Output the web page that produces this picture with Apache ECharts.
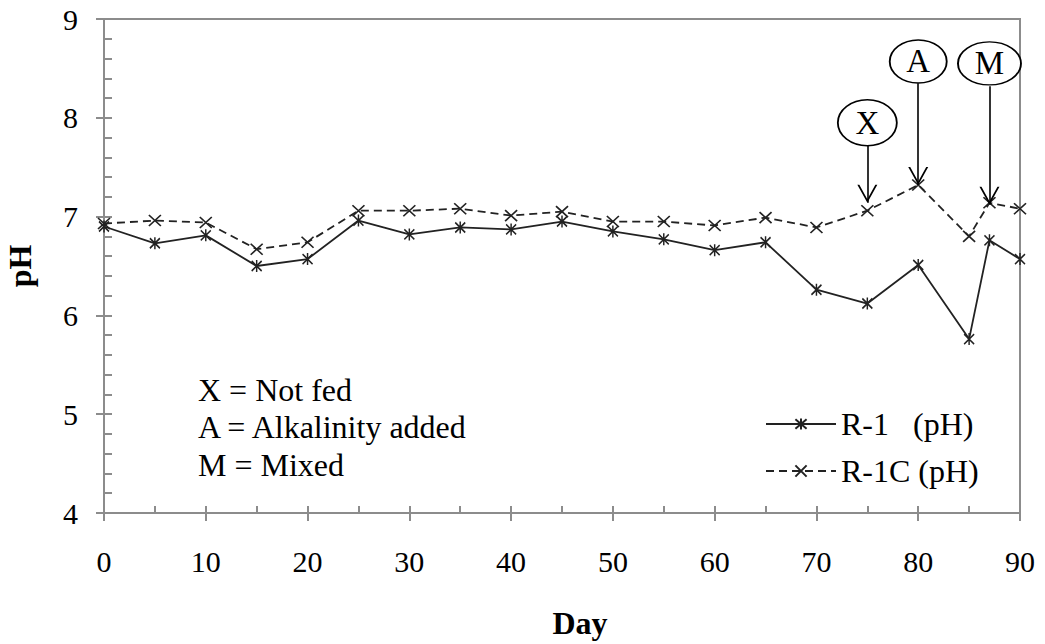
<!DOCTYPE html>
<html><head><meta charset="utf-8">
<script src="https://cdn.jsdelivr.net/npm/echarts@6/dist/echarts.min.js"></script>
<style>html,body{margin:0;padding:0;background:#fff}#c{width:1045px;height:644px}</style>
</head><body><div id="c"></div>
<script>
// ---- data ----
const days = [0,5,10,15,20,25,30,35,40,45,50,55,60,65,70,75,80,85,87,90];
const r1   = [6.90,6.73,6.81,6.50,6.57,6.96,6.82,6.89,6.87,6.95,6.85,6.77,6.66,6.74,6.26,6.12,6.51,5.76,6.76,6.57];
const r1c  = [6.93,6.96,6.94,6.67,6.74,7.06,7.06,7.08,7.01,7.05,6.95,6.95,6.91,6.99,6.89,7.06,7.32,6.80,7.14,7.08];
const seriesNames = ['R-1 (pH)', 'R-1C (pH)'];
const legendLabels = ['R-1\u00a0\u00a0\u00a0(pH)', 'R-1C (pH)'];
const xRange = [0, 90, 10];   // min, max, step of tick labels
const yRange = [4, 9, 1];
const annotLabels   = ['X', 'A', 'M'];
const annotDays     = [75, 80, 87];
const annotBubbleY  = [7.95, 8.57, 8.55];
const annotShaftTop = [7.72, 8.35, 8.32];
const annotTipY     = [7.14, 7.32, 7.12];
const noteLines = ['X = Not fed', 'A = Alkalinity added', 'M = Mixed'];

// ---- styles ----
const FONT = "'Liberation Serif', 'Times New Roman', serif";
const AX = '#8c8c8c';
const INK = '#222';
const bubbleSizes = [[59,46],[57,43],[63,43]];
const ASTER = 'path://M0,1L10,11M10,1L0,11M5,0L5,12';
const CROSS = 'path://M0,0L10,10M10,0L0,10';
const ELLIPSE = 'path://M0,50A50,50 0 1 1 100,50A50,50 0 1 1 0,50Z';
const VHEAD = 'path://M0,0L7,14L14,0L12.6,0L7,11.2L1.4,0Z';

const pairs = (xs, ys) => xs.map((x, i) => [x, ys[i]]);

const markPoints = [];
annotLabels.forEach((t, i) => {
  markPoints.push({
    coord: [annotDays[i], annotBubbleY[i]], symbol: ELLIPSE, symbolSize: bubbleSizes[i],
    itemStyle: {color: '#fff', borderColor: '#000', borderWidth: 1.6},
    label: {show: true, formatter: t, position: 'inside', color: '#000', fontSize: 33, fontFamily: FONT}
  });
  markPoints.push({
    coord: [annotDays[i], annotTipY[i]], symbol: VHEAD, symbolSize: [20, 18], symbolOffset: [0, '-50%'],
    itemStyle: {color: '#000', borderWidth: 0}, label: {show: false}
  });
});
const markLines = annotLabels.map((t, i) => [
  {coord: [annotDays[i], annotShaftTop[i]]},
  {coord: [annotDays[i], annotTipY[i]]}
]);

const xCommon = {type: 'value', min: xRange[0], max: xRange[1], interval: xRange[2], position: 'bottom'};
const yCommon = {type: 'value', min: yRange[0], max: yRange[1], interval: yRange[2], position: 'left'};

const option = {
  animation: false,
  backgroundColor: '#fff',
  textStyle: {fontFamily: FONT},
  grid: {left: 104, right: 25, top: 19, bottom: 131, containLabel: false, outerBoundsMode: 'none',
         show: true, borderColor: AX, borderWidth: 2, backgroundColor: 'transparent'},
  xAxis: [
    Object.assign({}, xCommon, {
      axisLine: {show: true, lineStyle: {color: AX, width: 2}},
      axisTick: {show: true, inside: false, length: 8, lineStyle: {color: AX, width: 2}},
      minorTick: {show: false},
      splitLine: {show: false},
      axisLabel: {show: true, margin: 33, fontSize: 30, color: '#000', fontFamily: FONT},
      name: 'Day', nameLocation: 'middle', nameGap: 94,
      nameTextStyle: {fontSize: 32, fontWeight: 'bold', color: '#000', fontFamily: FONT, padding: [0, 0, 0, 36]}
    }),
    Object.assign({}, xCommon, {
      axisLine: {show: false},
      axisTick: {show: true, inside: true, length: 7, lineStyle: {color: AX, width: 2}},
      minorTick: {show: true, splitNumber: 2, length: 7, lineStyle: {color: AX, width: 2}},
      splitLine: {show: false}, axisLabel: {show: false}
    })
  ],
  yAxis: [
    Object.assign({}, yCommon, {
      axisLine: {show: true, lineStyle: {color: AX, width: 2}},
      axisTick: {show: true, inside: false, length: 8, lineStyle: {color: AX, width: 2}},
      minorTick: {show: false},
      splitLine: {show: false},
      axisLabel: {show: true, margin: 26, fontSize: 30, color: '#000', fontFamily: FONT},
      name: 'pH', nameLocation: 'middle', nameGap: 68, nameRotate: 90,
      nameTextStyle: {fontSize: 32, fontWeight: 'bold', color: '#000', fontFamily: FONT}
    }),
    Object.assign({}, yCommon, {
      axisLine: {show: false},
      axisTick: {show: true, inside: true, length: 8, lineStyle: {color: AX, width: 2}},
      minorTick: {show: true, splitNumber: 5, length: 8, lineStyle: {color: AX, width: 2}},
      splitLine: {show: false}, axisLabel: {show: false}
    })
  ],
  legend: {
    orient: 'vertical', left: 765, top: 408, padding: 0,
    itemWidth: 70, itemHeight: 14, itemGap: 15,
    data: seriesNames,
    formatter: n => legendLabels[seriesNames.indexOf(n)],
    textStyle: {fontSize: 32, color: '#000', fontFamily: FONT},
    selectedMode: false
  },
  graphic: [{
    type: 'text', left: 198, top: 371, silent: true,
    style: {text: noteLines.join('\n'), fontSize: 32, fontFamily: FONT, lineHeight: 37.5, fill: '#000'}
  }],
  series: [
    {
      name: seriesNames[0], type: 'line', xAxisIndex: 0, yAxisIndex: 0,
      data: pairs(days, r1), symbol: ASTER, symbolSize: [10, 12],
      lineStyle: {color: INK, width: 1.8, type: 'solid'},
      itemStyle: {color: INK, borderColor: INK, borderWidth: 1.6},
      emphasis: {disabled: true}, z: 3
    },
    {
      name: seriesNames[1], type: 'line', xAxisIndex: 0, yAxisIndex: 0,
      data: pairs(days, r1c), symbol: CROSS, symbolSize: [12, 11],
      lineStyle: {color: INK, width: 1.8, type: [8, 5]},
      itemStyle: {color: INK, borderColor: INK, borderWidth: 1.6},
      emphasis: {disabled: true}, z: 3,
      markLine: {
        silent: true, symbol: ['none', 'none'], label: {show: false},
        lineStyle: {color: '#000', width: 1.6, type: 'solid'},
        emphasis: {disabled: true}, data: markLines
      },
      markPoint: {silent: true, emphasis: {disabled: true}, data: markPoints}
    }
  ]
};
const chart = echarts.init(document.getElementById('c'), null, {renderer: 'svg'});
chart.setOption(option);
</script></body></html>
